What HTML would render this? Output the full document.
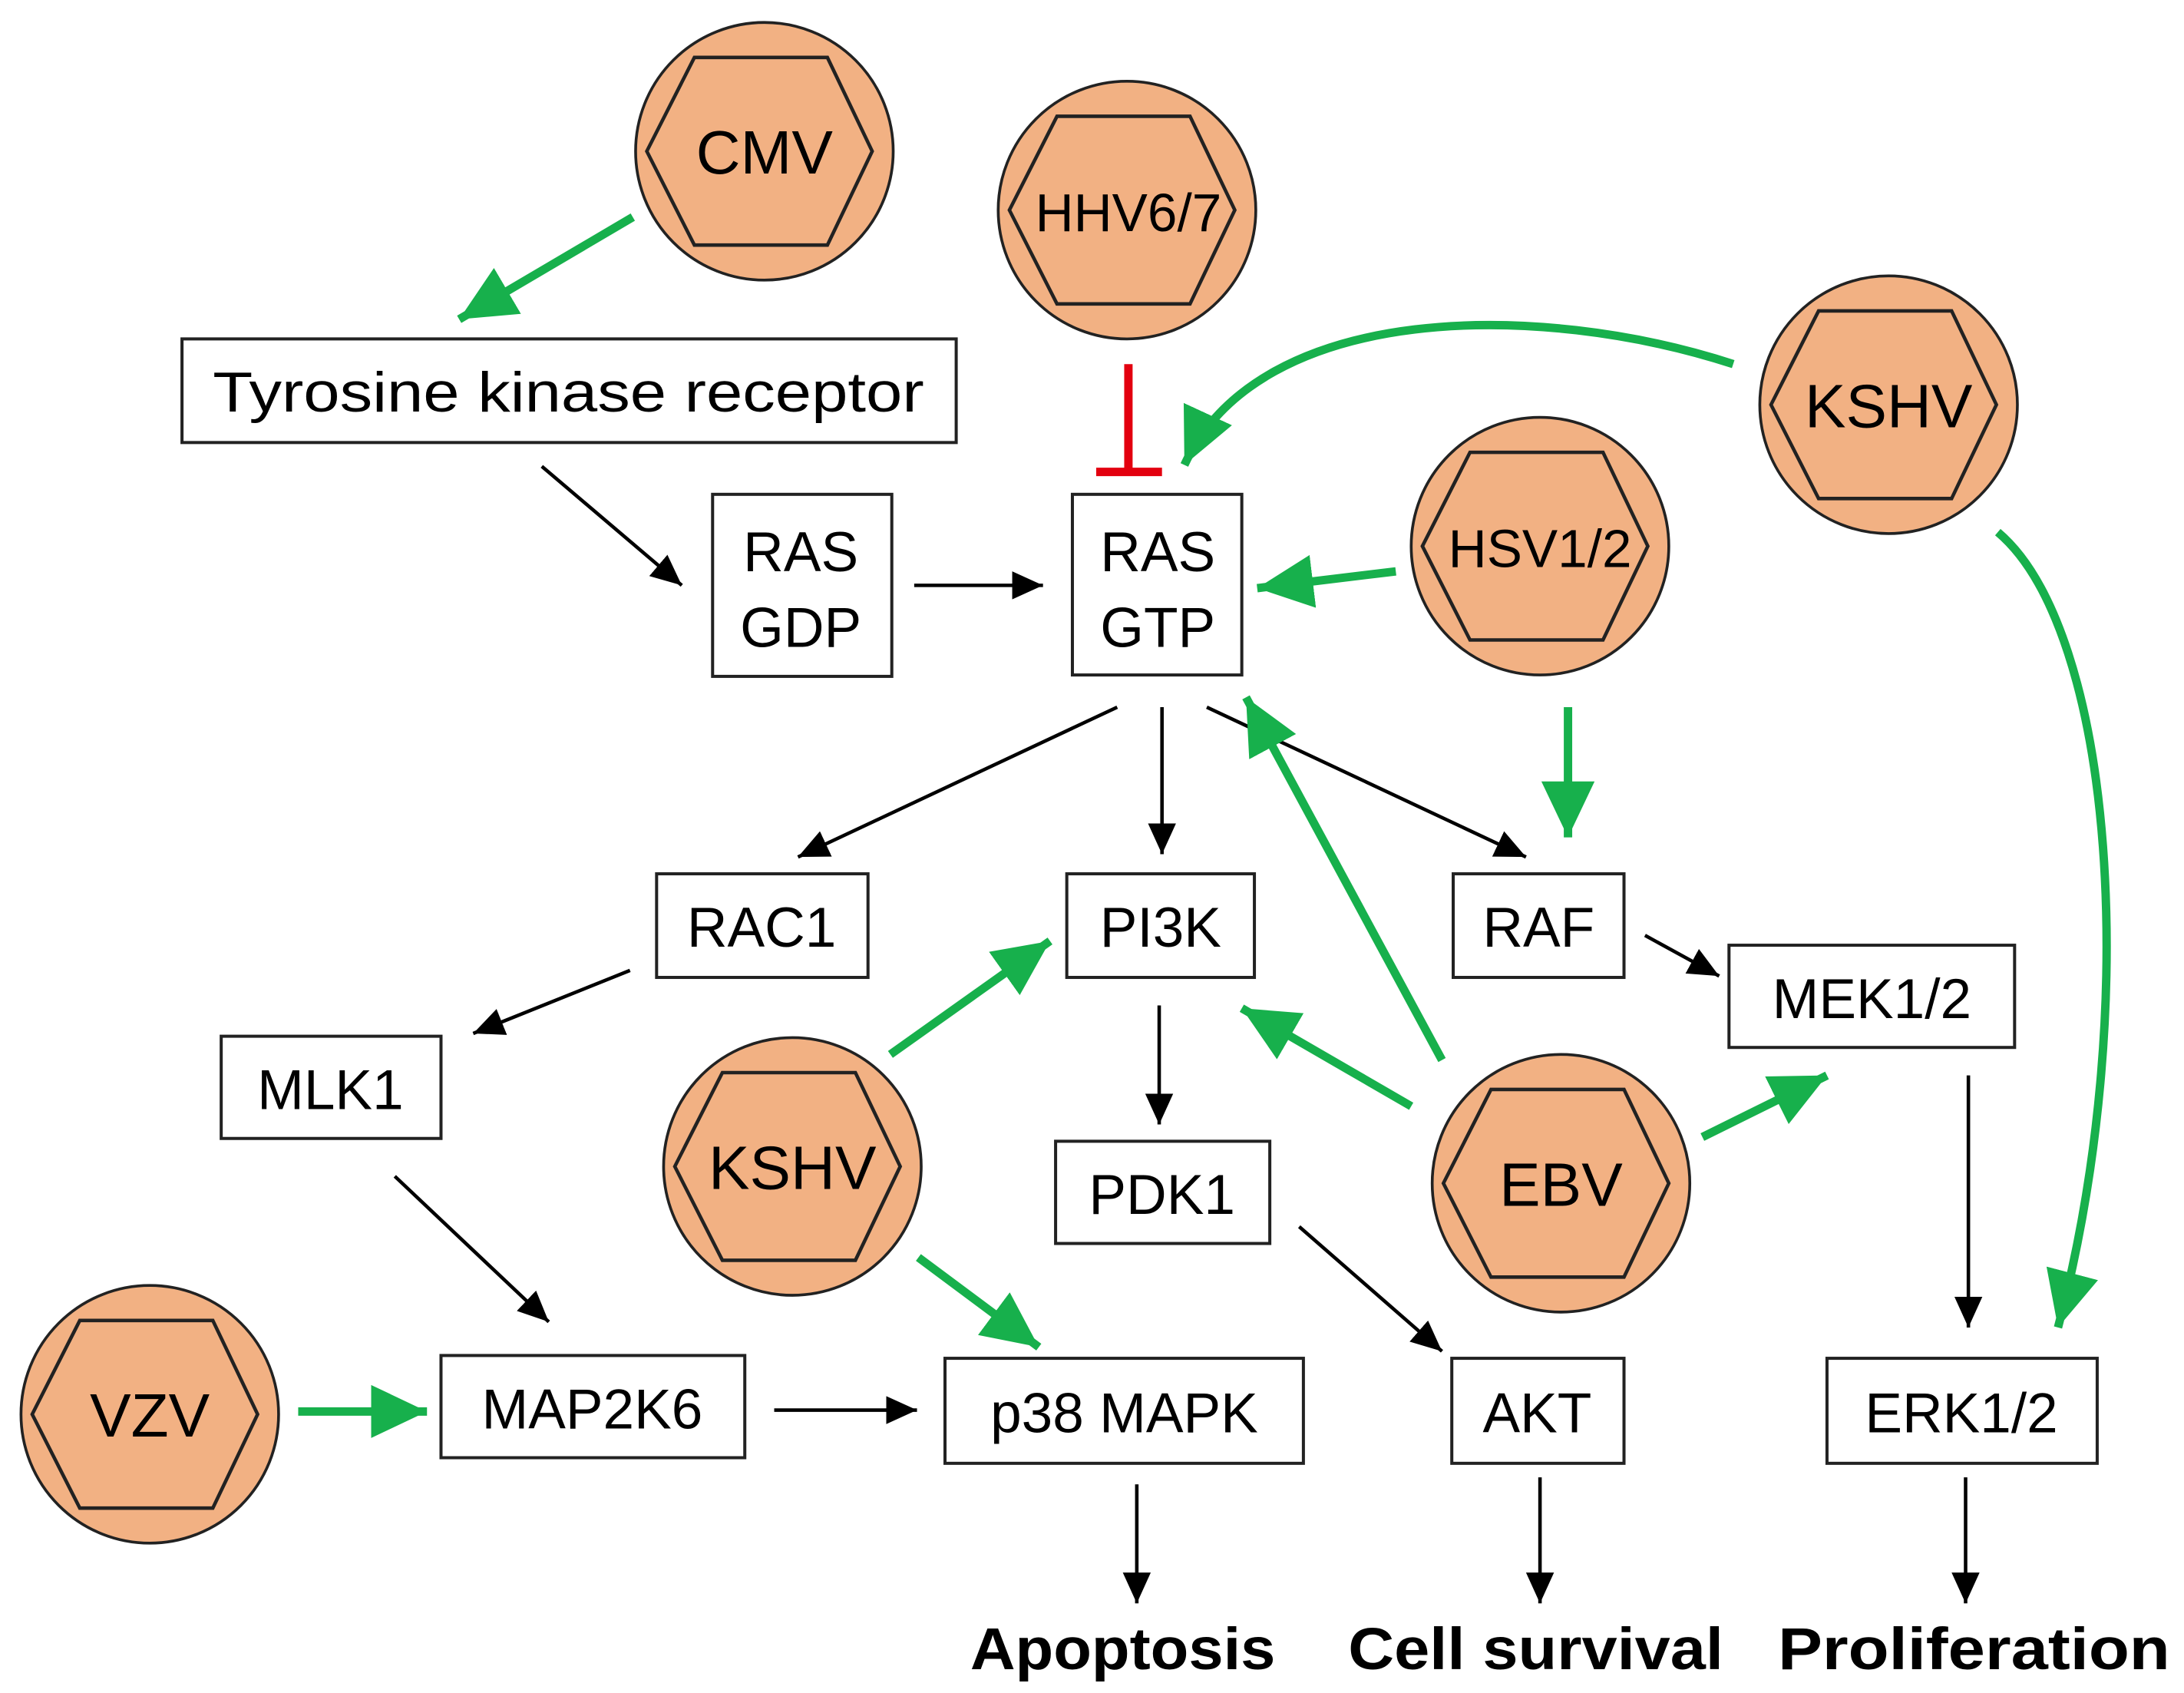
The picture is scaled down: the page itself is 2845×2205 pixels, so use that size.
<!DOCTYPE html>
<html><head><meta charset="utf-8"><style>
html,body{margin:0;padding:0;background:#fff}
svg{display:block}
text{font-family:"Liberation Sans",sans-serif;fill:#000}
</style></head><body>
<svg width="2845" height="2205" viewBox="0 0 1560 1209" xmlns="http://www.w3.org/2000/svg">
<defs>
<marker id="b" markerUnits="userSpaceOnUse" markerWidth="24" markerHeight="22" refX="22" refY="10" orient="auto"><path d="M0,0 L22,10 L0,20 Z" fill="#000"/></marker>
<marker id="g" markerUnits="userSpaceOnUse" markerWidth="42" markerHeight="40" refX="40" refY="19" orient="auto"><path d="M0,0 L40,19 L0,38 Z" fill="#17b04c"/></marker>
<g id="hex"><circle r="92" fill="#f2b183" stroke="#222" stroke-width="2"/><polygon points="-84,0 -50,-67 45,-67 77,0 45,67 -50,67" fill="none" stroke="#222" stroke-width="2.5"/></g>
</defs>
<g fill="#fff" stroke="#222" stroke-width="2.2">
<rect x="130" y="242" width="553" height="74"/>
<rect x="509" y="353" width="128" height="130"/>
<rect x="766" y="353" width="121" height="129"/>
<rect x="469" y="624" width="151" height="74"/>
<rect x="762" y="624" width="134" height="74"/>
<rect x="1038" y="624" width="122" height="74"/>
<rect x="1235" y="675" width="204" height="73"/>
<rect x="158" y="740" width="157" height="73"/>
<rect x="754" y="815" width="153" height="73"/>
<rect x="315" y="968" width="217" height="73"/>
<rect x="675" y="970" width="256" height="75"/>
<rect x="1037" y="970" width="123" height="75"/>
<rect x="1305" y="970" width="193" height="75"/>
</g>
<g font-size="40" text-anchor="middle">
<text x="406" y="294" textLength="508" lengthAdjust="spacingAndGlyphs">Tyrosine kinase receptor</text>
<text x="572" y="408">RAS</text><text x="572" y="462">GDP</text>
<text x="827" y="408">RAS</text><text x="827" y="462">GTP</text>
<text x="544" y="676">RAC1</text>
<text x="829" y="676">PI3K</text>
<text x="1099" y="676">RAF</text>
<text x="1337" y="727">MEK1/2</text>
<text x="236" y="792">MLK1</text>
<text x="830" y="867">PDK1</text>
<text x="423" y="1020">MAP2K6</text>
<text x="803" y="1023">p38 MAPK</text>
<text x="1098" y="1023">AKT</text>
<text x="1401" y="1023">ERK1/2</text>
</g>
<g font-size="42" font-weight="bold" text-anchor="middle">
<text x="802" y="1192" textLength="218" lengthAdjust="spacingAndGlyphs">Apoptosis</text>
<text x="1097" y="1192" textLength="268" lengthAdjust="spacingAndGlyphs">Cell survival</text>
<text x="1410" y="1192" textLength="280" lengthAdjust="spacingAndGlyphs">Proliferation</text>
</g>
<use href="#hex" x="546" y="108"/>
<use href="#hex" x="805" y="150"/>
<use href="#hex" x="1349" y="289"/>
<use href="#hex" x="1100" y="390"/>
<use href="#hex" x="1115" y="845"/>
<use href="#hex" x="566" y="833"/>
<use href="#hex" x="107" y="1010"/>
<g font-size="44" text-anchor="middle">
<text x="546" y="124">CMV</text>
<text x="806" y="165" font-size="38">HHV6/7</text>
<text x="1349" y="305">KSHV</text>
<text x="1100" y="405" font-size="38">HSV1/2</text>
<text x="1115" y="861">EBV</text>
<text x="566" y="849">KSHV</text>
<text x="107" y="1026">VZV</text>
</g>
<g stroke="#000" stroke-width="2.5" fill="none" marker-end="url(#b)">
<line x1="387" y1="333" x2="487" y2="418"/>
<line x1="653" y1="418" x2="745" y2="418"/>
<line x1="798" y1="505" x2="570" y2="612"/>
<line x1="830" y1="505" x2="830" y2="610"/>
<line x1="862" y1="505" x2="1090" y2="612"/>
<line x1="1175" y1="668" x2="1228" y2="697"/>
<line x1="450" y1="693" x2="338" y2="738"/>
<line x1="828" y1="718" x2="828" y2="803"/>
<line x1="282" y1="840" x2="392" y2="944"/>
<line x1="553" y1="1007" x2="655" y2="1007"/>
<line x1="928" y1="876" x2="1030" y2="965"/>
<line x1="1406" y1="768" x2="1406" y2="948"/>
<line x1="812" y1="1060" x2="812" y2="1145"/>
<line x1="1100" y1="1055" x2="1100" y2="1145"/>
<line x1="1404" y1="1055" x2="1404" y2="1145"/>
</g>
<g stroke="#17b04c" stroke-width="6" fill="none" marker-end="url(#g)">
<line x1="452" y1="155" x2="328" y2="228"/>
<path d="M1238,260 C1100,215 900,215 846,332"/>
<path d="M1427,380 C1510,450 1530,720 1470,948"/>
<line x1="997" y1="408" x2="898" y2="420"/>
<line x1="1120" y1="505" x2="1120" y2="598"/>
<line x1="1030" y1="757" x2="890" y2="498"/>
<line x1="1008" y1="790" x2="887" y2="720"/>
<line x1="1216" y1="812" x2="1305" y2="768"/>
<line x1="636" y1="753" x2="750" y2="672"/>
<line x1="656" y1="898" x2="742" y2="962"/>
<line x1="213" y1="1008" x2="305" y2="1008"/>
</g>
<g stroke="#e3000f" stroke-width="6">
<line x1="806" y1="260" x2="806" y2="337"/>
<line x1="783" y1="337" x2="830" y2="337"/>
</g>
</svg>
</body></html>
